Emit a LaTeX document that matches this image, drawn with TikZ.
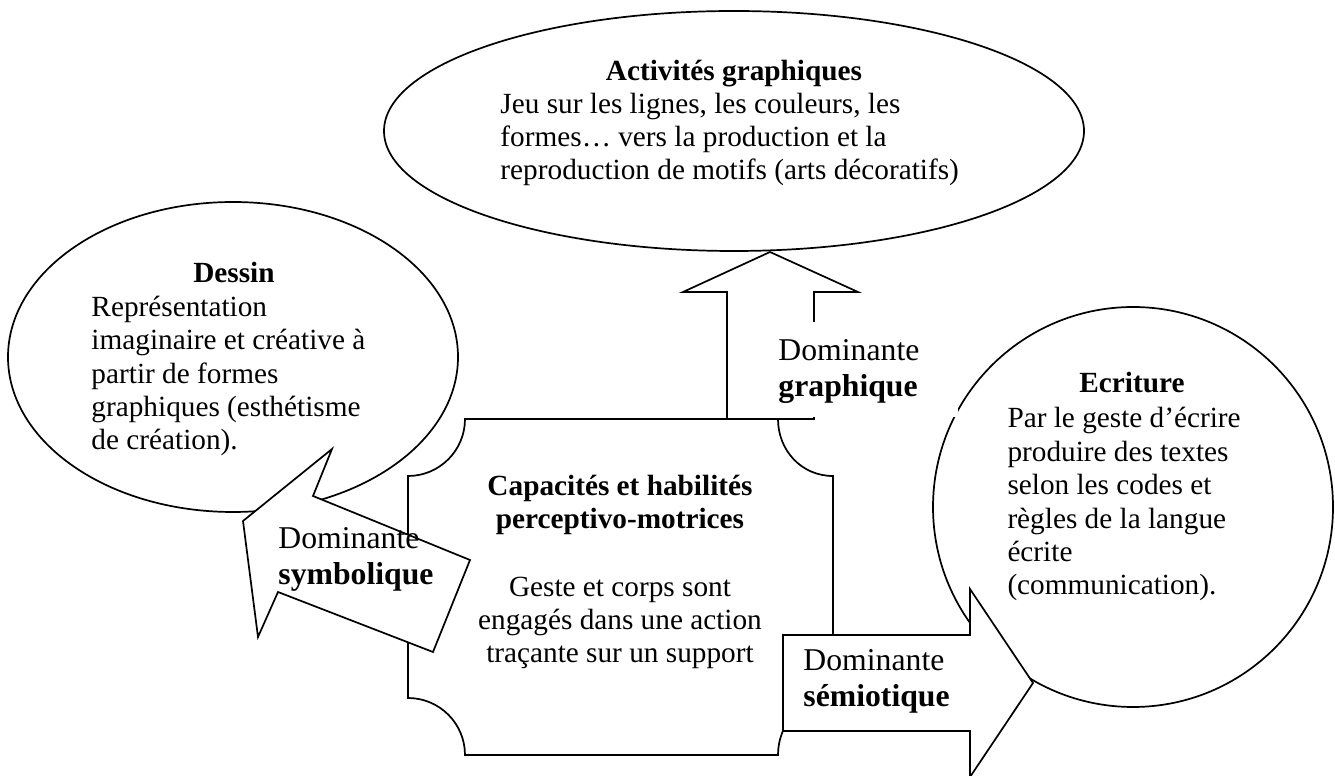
\documentclass[tikz,border=0pt]{standalone}
\usepackage{fontspec}
\setmainfont{Liberation Serif}

\begin{document}
\begin{tikzpicture}[x=0.41pt, y=-0.41pt,
    forme/.style={draw, line width=0.7pt, fill=white},
    titre/.style={font=\fontsize{12}{13.7}\selectfont\bfseries, inner sep=0pt, anchor=base, align=center},
    corps/.style={font=\fontsize{12}{13.7}\selectfont, inner sep=0pt, anchor=base west, align=left},
    dominante/.style={font=\fontsize{13}{15}\selectfont, inner sep=0pt, anchor=base west, align=left}]
    \useasboundingbox (0, 0) rectangle (1335, 776);

    \draw[forme] (233, 357) ellipse [x radius=225, y radius=155];
    \draw[forme] (734, 131) ellipse [x radius=350, y radius=120];
    \draw[forme] (1133, 507) circle [radius=200];

    \draw[forme] (465, 419) -- (778, 419) .. controls (778, 450.5) and (801.5, 476) .. (833, 476)
        -- (833, 698) .. controls (801.5, 698) and (778, 723.5) .. (778, 755)
        -- (465, 755) .. controls (465, 723.5) and (439.5, 698) .. (408, 698)
        -- (408, 476) .. controls (439.5, 476) and (465, 450.5) .. cycle;

    \draw[forme] (770, 252) -- (858, 292) -- (814, 292) -- (814, 419) -- (727, 419) -- (727, 292) -- (683, 292) -- cycle;
    \fill[white] (770, 322) rectangle (958, 417);
    \draw[forme] (243, 521) -- (332, 449) -- (313, 496) -- (470, 560) -- (433, 652) -- (278, 592) -- (258, 637) -- cycle;
    \draw[forme] (783, 635) -- (970, 635) -- (970, 589) -- (1033, 683) -- (970, 777) -- (970, 731) -- (783, 731) -- cycle;

    % multi-line nodes: base = last line
    \node[titre] (titreact) at (734, 81) {Activités graphiques};
    \node[corps] (act) at (500, 180) {Jeu sur les lignes, les couleurs, les\\formes… vers la production et la\\reproduction de motifs (arts décoratifs)};

    \node[titre] (titredessin) at (234, 283) {Dessin};
    \node[corps] (dessin) at (91, 450) {Représentation\\imaginaire et créative à\\partir de formes\\graphiques (esthétisme\\de création).};

    \node[titre] (titreecr) at (1132, 393) {Ecriture};
    \node[corps] (ecr) at (1007, 595) {Par le geste d’écrire\\produire des textes\\selon les codes et\\règles de la langue\\écrite\\(communication).};

    \node[titre] (titrecap) at (620, 529) {Capacités et habilités\\perceptivo-motrices};
    \node[corps, anchor=base, align=center] (cap) at (620, 663) {Geste et corps sont\\engagés dans une action\\traçante sur un support};

    \node[dominante] (domgraph) at (778, 397) {Dominante\\\textbf{graphique}};
    \node[dominante] (domsymb) at (278, 585) {Dominante\\\textbf{symbolique}};
    \node[dominante] (domsemio) at (803, 707) {Dominante\\\textbf{sémiotique}};
\end{tikzpicture}
\end{document}
